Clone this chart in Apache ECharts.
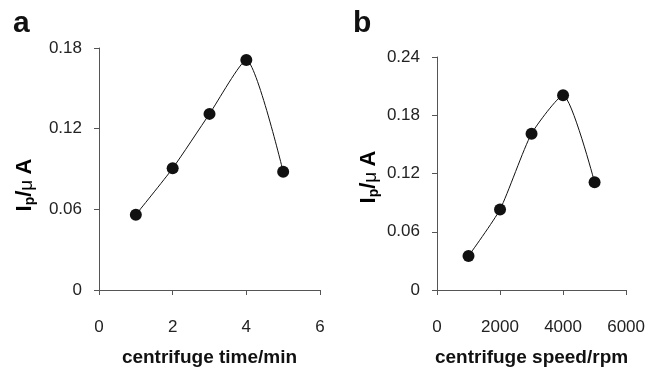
<!DOCTYPE html>
<html><head><meta charset="utf-8">
<script src="https://cdn.jsdelivr.net/npm/echarts@6/dist/echarts.min.js"></script>
<style>html,body{margin:0;padding:0;background:#fff}#c{width:648px;height:372px}</style>
</head><body><div id="c"></div>
<script>
const timeX = [1, 2, 3, 4, 5];
const timeY = [0.056, 0.0905, 0.131, 0.171, 0.088];
const speedX = [1000, 2000, 3000, 4000, 5000];
const speedY = [0.035, 0.083, 0.161, 0.2005, 0.111];
const xTicksA = [0, 2, 4, 6];
const yTicksA = [0, 0.06, 0.12, 0.18];
const xTicksB = [0, 2000, 4000, 6000];
const yTicksB = [0, 0.06, 0.12, 0.18, 0.24];

const FONT = "'Liberation Sans', Arial, sans-serif";
const axisCol = '#555';
function xAxis(idx, ticks, name) {
  return {
    type: 'value', gridIndex: idx, min: ticks[0], max: ticks[ticks.length - 1],
    interval: ticks[1] - ticks[0],
    name: name, nameLocation: 'middle', nameGap: 58,
    nameTextStyle: {fontFamily: FONT, fontWeight: 'bold', fontSize: 19, color: '#111'},
    axisLine: {show: true, lineStyle: {color: axisCol, width: 1}},
    axisTick: {show: true, length: 5, lineStyle: {color: axisCol}},
    axisLabel: {fontFamily: FONT, fontSize: 17, color: '#222', margin: 29,
      formatter: v => String(v)},
    splitLine: {show: false}
  };
}
function yAxis(idx, ticks) {
  return {
    type: 'value', gridIndex: idx, min: ticks[0], max: ticks[ticks.length - 1],
    interval: ticks[1] - ticks[0],
    axisLine: {show: true, lineStyle: {color: axisCol, width: 1}},
    axisTick: {show: true, length: 5, lineStyle: {color: axisCol}},
    axisLabel: {fontFamily: FONT, fontSize: 17, color: '#222', margin: 17,
      formatter: v => v === 0 ? '0' : v.toFixed(2)},
    splitLine: {show: false}
  };
}
const chart = echarts.init(document.getElementById('c'), null, {renderer: 'canvas'});
const richY = {
  m: {fontFamily: FONT, fontWeight: 'bold', fontSize: 22, color: '#111'},
  s: {fontFamily: FONT, fontWeight: 'bold', fontSize: 14, color: '#111', padding: [11, 0, 0, 0]},
  u: {fontFamily: FONT, fontWeight: 'normal', fontSize: 19, color: '#111', padding: [3, 0, 0, 0]}
};
function yName(x, y) {
  return {
    type: 'text', x: x, y: y, rotation: Math.PI / 2,
    style: {
      text: '{m|I}{s|p}{m|/}{u|μ }{m|A}', rich: richY,
      align: 'center', verticalAlign: 'middle'
    }
  };
}
function panelLetter(t, x) {
  return {type: 'text', x: x, y: 24,
    style: {text: t, fontFamily: FONT, fontWeight: 'bold', fontSize: 30, fill: '#111',
      align: 'left', verticalAlign: 'middle'}};
}
chart.setOption({
  animation: false,
  grid: [
    {left: 99, top: 48, width: 221, height: 251},
    {left: 437, top: 57, width: 191, height: 242}
  ],
  xAxis: [xAxis(0, xTicksA, 'centrifuge time/min'), xAxis(1, xTicksB, 'centrifuge speed/rpm')],
  yAxis: [yAxis(0, yTicksA), yAxis(1, yTicksB)],
  series: [
    {type: 'line', xAxisIndex: 0, yAxisIndex: 0, data: timeX.map((x, i) => [x, timeY[i]]),
      smooth: 0.2, symbol: 'circle', symbolSize: 12,
      lineStyle: {color: '#111', width: 1}, itemStyle: {color: '#111'}},
    {type: 'line', xAxisIndex: 1, yAxisIndex: 1, data: speedX.map((x, i) => [x, speedY[i]]),
      smooth: 0.2, symbol: 'circle', symbolSize: 12,
      lineStyle: {color: '#111', width: 1}, itemStyle: {color: '#111'}}
  ],
  graphic: [
    panelLetter('a', 13),
    panelLetter('b', 353),
    yName(25, 185),
    yName(369, 177)
  ]
});
</script></body></html>
